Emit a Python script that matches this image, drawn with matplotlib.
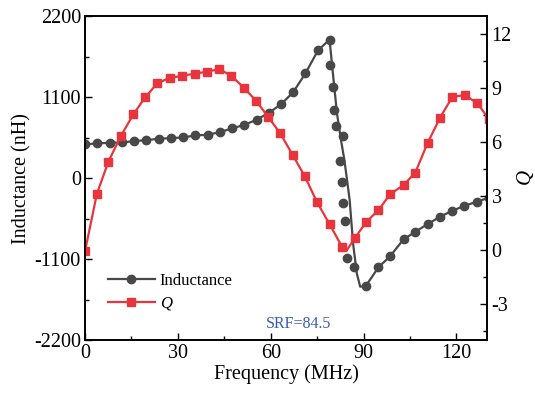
import numpy as np
import matplotlib.pyplot as plt
from matplotlib.ticker import MultipleLocator

plt.rcParams['font.family'] = ['Liberation Serif', 'DejaVu Serif']
plt.rcParams['mathtext.fontset'] = 'custom'
plt.rcParams['mathtext.it'] = 'Liberation Serif:italic'
plt.rcParams['axes.unicode_minus'] = False

# inductance, measured points (MHz, nH)
ind_x = [0, 4, 7.9, 11.9, 15.8, 19.8, 23.8, 27.7, 31.7, 35.6, 39.6, 43.6, 47.5,
         51.5, 55.4, 59.4, 63.4, 67.3, 71.2, 75.3, 79.0,
         79.3, 80.0, 80.5, 81.2, 83.2, 82.5, 83.0, 83.5, 84.1, 84.6, 87.0,
         90.8, 94.8, 98.6, 102.9, 106.7, 110.7, 114.7, 118.7, 122.6, 126.6, 130.5]
ind_y = [458, 471, 480, 484, 502, 516, 534, 543, 552, 580, 588, 625, 675,
         724, 792, 887, 1005, 1170, 1422, 1738, 1880,
         1535, 1232, 923, 706, 570, 230, -50, -335, -580, -1091, -1204,
         -1460, -1213, -1059, -833, -729, -625, -525, -444, -376, -322, -265]

# inductance, fitted curve through the resonance
fit_x = [0, 4, 7.9, 11.9, 15.8, 19.8, 23.8, 27.7, 31.7, 35.6, 39.6, 43.6, 47.5,
         51.5, 55.4, 59.4, 63.4, 67.3, 71.2, 75.3, 79.0,
         80.3, 81.4, 82.7, 83.8, 85.5, 86.6, 87.8, 88.9, 90.8,
         94.8, 98.6, 102.9, 106.7, 110.7, 114.7, 118.7, 122.6, 126.6, 130.5]
fit_y = [458, 471, 480, 484, 502, 516, 534, 543, 552, 580, 588, 625, 675,
         724, 792, 887, 1005, 1170, 1422, 1738, 1880,
         1331, 879, 516, 244, -299, -887, -1294, -1476, -1460,
         -1213, -1059, -833, -729, -625, -525, -444, -376, -322, -265]

# quality factor
q_x = [0, 3.8, 7.5, 11.6, 15.6, 19.4, 23.3, 27.3, 31.4, 35.5, 39.4, 43.4, 47.3,
       51.3, 55.3, 59.1, 63.1, 67.1, 71.0, 74.9, 79.0, 83.0, 84.4,
       87.1, 90.9, 94.8, 98.6, 102.9, 106.7, 110.7, 114.7, 118.7, 122.8, 126.8, 130.4]
q_y = [-0.05, 3.11, 4.9, 6.35, 7.54, 8.48, 9.26, 9.57, 9.68, 9.81, 9.91, 10.06, 9.68,
       9.02, 8.29, 7.41, 6.48, 5.28, 4.1, 2.68, 1.44, 0.19, -0.06,
       0.65, 1.57, 2.22, 3.11, 3.61, 4.3, 5.96, 7.35, 8.52, 8.61, 8.15, 7.3]
q_marks = [i for i in range(len(q_x)) if i != 22]

gray = '#484848'
red = '#E8353D'

fig = plt.figure(figsize=(5.35, 3.94), dpi=100)
ax = fig.add_axes([0.159, 0.137, 0.752, 0.822])
ax2 = ax.twinx()

ax.plot(fit_x, fit_y, color=gray, lw=1.6, zorder=3)
ax.plot(ind_x, ind_y, 'o', color=gray, ms=6, zorder=4)
ax2.plot(q_x, q_y, '-s', color=red, lw=1.6, ms=5.5, markevery=q_marks)

ax.set_xlim(0, 130)
ax.set_ylim(-2200, 2200)
ax2.set_ylim(-5, 13)
ax.set_xticks([0, 30, 60, 90, 120])
ax.xaxis.set_minor_locator(MultipleLocator(15))
ax.set_yticks([-2200, -1100, 0, 1100, 2200])
ax.yaxis.set_minor_locator(MultipleLocator(550))
ax2.set_yticks([-3, 0, 3, 6, 9, 12])
ax2.yaxis.set_minor_locator(MultipleLocator(1.5))

for a in (ax, ax2):
    a.tick_params(which='major', direction='in', length=5, width=1, labelsize=14.5, pad=3)
    a.tick_params(which='minor', direction='in', length=3, width=1)
    for s in a.spines.values():
        s.set_linewidth(1.2)
ax.tick_params(axis='y', which='both', right=False)
ax.tick_params(axis='x', which='both', top=False)

ax.set_xlabel('Frequency (MHz)', fontsize=14.5, labelpad=1)
ax.set_ylabel('Inductance (nH)', fontsize=14.5, labelpad=2)
ax2.set_ylabel('$Q$', fontsize=15, labelpad=2)

h1, = ax.plot([], [], '-o', color=gray, lw=1.6, ms=6)
h2, = ax.plot([], [], '-s', color=red, lw=1.6, ms=5.5)
ax.legend([h1, h2], ['Inductance', '$Q$'], loc='lower left', bbox_to_anchor=(0.02, 0.04),
          frameon=False, fontsize=12, handlelength=2.8, handletextpad=0.3, labelspacing=0.35)

ax.text(0.53, 0.025, 'SRF=84.5', transform=ax.transAxes, color='#3A5BB5',
        fontsize=11.5, ha='center', va='bottom')

fig.savefig('out.png', dpi=100)
